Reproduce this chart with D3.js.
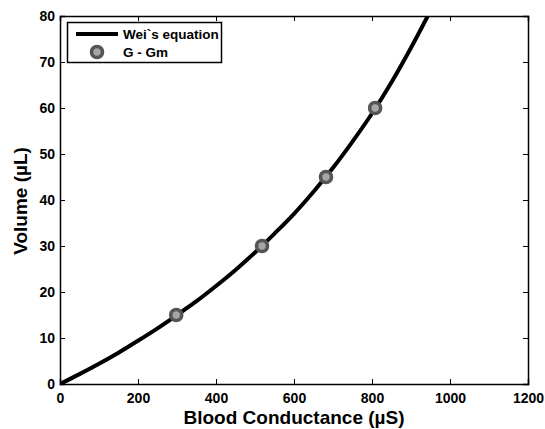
<!DOCTYPE html>
<html>
<head>
<meta charset="utf-8" />
<script src="https://d3js.org/d3.v7.min.js"></script>
<style>
html, body { margin: 0; background: #fff; overflow: hidden; }
text { font-family: "Liberation Sans", Arial, sans-serif; font-weight: bold; }
</style>
</head>
<body>
<div id="chart"></div>
<script>
// curve (Wei's equation)
var curveG = [0, 50, 100, 150, 200, 250, 300, 350, 400, 450, 500, 550, 600, 650, 700, 750, 800, 850, 900, 943];
var curveV = [0, 2.15, 4.4, 6.8, 9.4, 12.1, 15.0, 18.0, 21.3, 24.8, 28.6, 32.7, 37.0, 41.8, 47.0, 52.7, 58.8, 65.6, 73.1, 80.0];
// measured points (G - Gm)
var pointG = [298, 518, 682, 808];
var pointV = [15, 30, 45, 60];
var xTicks = [0, 200, 400, 600, 800, 1000, 1200];
var yTicks = [0, 10, 20, 30, 40, 50, 60, 70, 80];

var W = 545, H = 429;
var m = {left: 60, right: 17, top: 16, bottom: 45};

var svg = d3.select("#chart").append("svg")
  .attr("width", W).attr("height", H)
  .style("display", "block");

var x = d3.scaleLinear().domain([0, 1200]).range([m.left, W - m.right]);
var y = d3.scaleLinear().domain([0, 80]).range([H - m.bottom, m.top]);

svg.append("clipPath").attr("id", "clip")
  .append("rect")
  .attr("x", x(0)).attr("y", y(80))
  .attr("width", x(1200) - x(0)).attr("height", y(0) - y(80));

// axes, ticks pointing inward on all four sides
var tickLen = 5;
var fmt = d3.format("d");
svg.append("g").attr("transform", "translate(0," + y(0) + ")")
  .call(d3.axisBottom(x).tickValues(xTicks).tickSize(-tickLen).tickPadding(9).tickFormat(fmt))
  .call(styleAxis);
svg.append("g").attr("transform", "translate(0," + y(80) + ")")
  .call(d3.axisTop(x).tickValues(xTicks).tickSize(-tickLen).tickFormat(""))
  .call(styleAxis);
svg.append("g").attr("transform", "translate(" + x(0) + ",0)")
  .call(d3.axisLeft(y).tickValues(yTicks).tickSize(-tickLen).tickPadding(5).tickFormat(fmt))
  .call(styleAxis);
svg.append("g").attr("transform", "translate(" + x(1200) + ",0)")
  .call(d3.axisRight(y).tickValues(yTicks).tickSize(-tickLen).tickFormat(""))
  .call(styleAxis);

function styleAxis(g) {
  g.select(".domain").attr("stroke", "#000").attr("stroke-width", 1.5);
  g.selectAll(".tick line").attr("stroke", "#000").attr("stroke-width", 1);
  g.selectAll(".tick text")
    .attr("fill", "#000")
    .style("font-size", "14px")
    .style("font-family", "'Liberation Sans', Arial, sans-serif")
    .style("font-weight", "bold");
}

// curve
var curveData = curveG.map(function(g, i) { return [g, curveV[i]]; });
var line = d3.line()
  .x(function(d) { return x(d[0]); })
  .y(function(d) { return y(d[1]); })
  .curve(d3.curveMonotoneX);

svg.append("path")
  .datum(curveData)
  .attr("clip-path", "url(#clip)")
  .attr("d", line)
  .attr("fill", "none")
  .attr("stroke", "#000")
  .attr("stroke-width", 4);

// points
svg.selectAll("circle.pt")
  .data(pointG)
  .enter().append("circle")
  .attr("class", "pt")
  .attr("cx", function(d) { return x(d); })
  .attr("cy", function(d, i) { return y(pointV[i]); })
  .attr("r", 5.5)
  .attr("fill", "#a6a6a6")
  .attr("stroke", "#555")
  .attr("stroke-width", 3.6);

// axis titles
svg.append("text")
  .attr("x", (x(0) + x(1200)) / 2)
  .attr("y", 424)
  .attr("text-anchor", "middle")
  .style("font-size", "19px")
  .text("Blood Conductance (\u00b5S)");

svg.append("text")
  .attr("transform", "translate(27," + (y(40) + 1) + ") rotate(-90)")
  .attr("text-anchor", "middle")
  .style("font-size", "19px")
  .text("Volume (\u00b5L)");

// legend
var lg = svg.append("g");
lg.append("rect")
  .attr("x", 67.5).attr("y", 22.5)
  .attr("width", 154).attr("height", 40)
  .attr("fill", "#fff").attr("stroke", "#000").attr("stroke-width", 1.5);
lg.append("line")
  .attr("x1", 76).attr("x2", 118).attr("y1", 34).attr("y2", 34)
  .attr("stroke", "#000").attr("stroke-width", 4);
lg.append("text").attr("x", 123).attr("y", 39)
  .style("font-size", "13.5px").text("Wei`s equation");
lg.append("circle")
  .attr("cx", 97).attr("cy", 52).attr("r", 5.5)
  .attr("fill", "#a6a6a6").attr("stroke", "#555").attr("stroke-width", 3.6);
lg.append("text").attr("x", 123).attr("y", 57)
  .style("font-size", "13.5px").text("G - Gm");
</script>
</body>
</html>
